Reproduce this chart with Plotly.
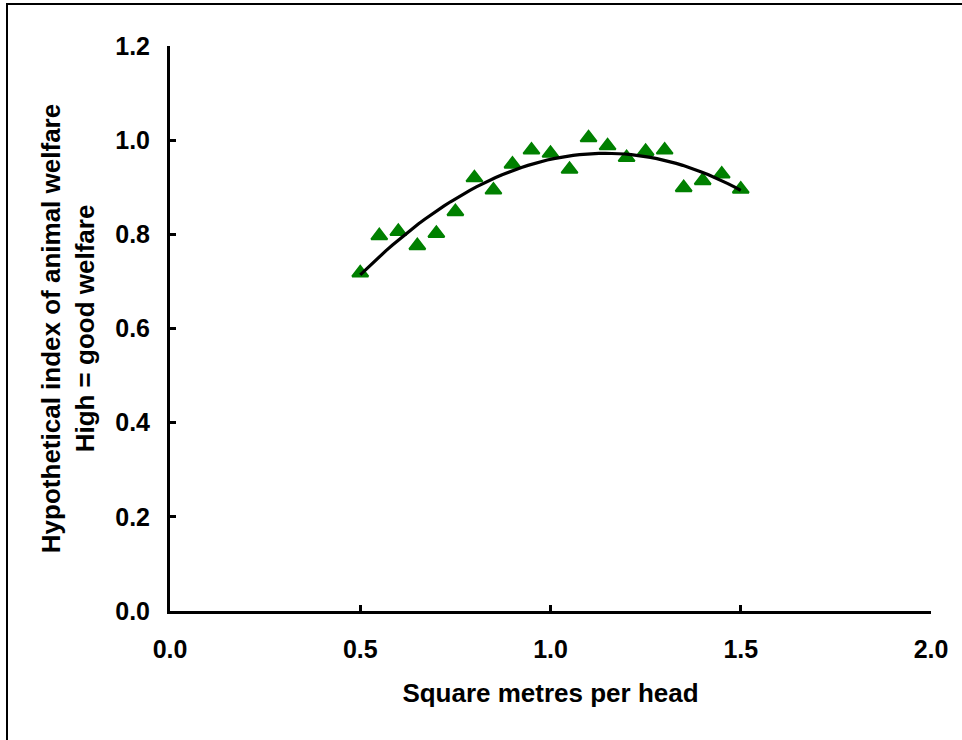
import numpy as np
import plotly.graph_objects as go

space = [0.5, 0.55, 0.6, 0.65, 0.7, 0.75, 0.8, 0.85, 0.9, 0.95, 1.0,
         1.05, 1.1, 1.15, 1.2, 1.25, 1.3, 1.35, 1.4, 1.45, 1.5]
welfare = [0.718, 0.797, 0.806, 0.776, 0.802, 0.848, 0.920, 0.894, 0.949, 0.979, 0.972,
           0.938, 1.005, 0.988, 0.963, 0.976, 0.979, 0.899, 0.914, 0.928, 0.896]

x_ticks = [0.0, 0.5, 1.0, 1.5, 2.0]
y_ticks = [0.0, 0.2, 0.4, 0.6, 0.8, 1.0, 1.2]

# second-order polynomial trendline fitted to the observations
coef = np.polyfit(space, welfare, 2)
fit_x = np.linspace(min(space), max(space), 60)
fit_y = np.polyval(coef, fit_x)

W, H = 962, 740
L, R, T, B = 170, 31, 46, 129
pw, ph = W - L - R, H - T - B

font = dict(family="Liberation Sans, Arial, sans-serif", size=25, color="black", weight="bold")
title_font = dict(font, size=26)

fig = go.Figure()
fig.add_trace(go.Scatter(x=space, y=welfare, mode="markers",
                         marker=dict(symbol="triangle-up", size=14, color="#008000",
                                     line=dict(color="#008000", width=2)),
                         showlegend=False, hoverinfo="x+y"))
fig.add_trace(go.Scatter(x=fit_x, y=fit_y, mode="lines",
                         line=dict(color="black", width=3.2),
                         showlegend=False, hoverinfo="skip"))

fig.update_layout(
    width=W, height=H,
    margin=dict(l=L, r=R, t=T, b=B, pad=0),
    paper_bgcolor="white", plot_bgcolor="white",
    font=font,
    xaxis=dict(range=[0, 2.0], tickvals=x_ticks, ticktext=[f"{v:.1f}" for v in x_ticks],
               showgrid=False, zeroline=False, showline=True, linecolor="black", linewidth=3,
               ticks="inside", ticklen=6, tickwidth=3, tickcolor="black",
               ticklabelstandoff=14, tickfont=font,
               title=dict(text="Square metres per head", font=title_font, standoff=22)),
    yaxis=dict(range=[0, 1.2], tickvals=y_ticks, ticktext=[f"{v:.1f}" for v in y_ticks],
               showgrid=False, zeroline=False, showline=True, linecolor="black", linewidth=3,
               ticks="inside", ticklen=6, tickwidth=3, tickcolor="black",
               ticklabelstandoff=12, tickfont=font,
               title=dict(text="Hypothetical index of animal welfare<br>High = good welfare",
                          font=title_font, standoff=14)),
    shapes=[dict(type="rect", xref="paper", yref="paper",
                 x0=(7 - L) / pw, x1=(W + 20 - L) / pw,
                 y0=(H - B - (H + 20)) / ph, y1=(H - B - 4) / ph,
                 line=dict(color="black", width=2), fillcolor="rgba(0,0,0,0)", layer="below")],
)

fig.write_html("out.html")
